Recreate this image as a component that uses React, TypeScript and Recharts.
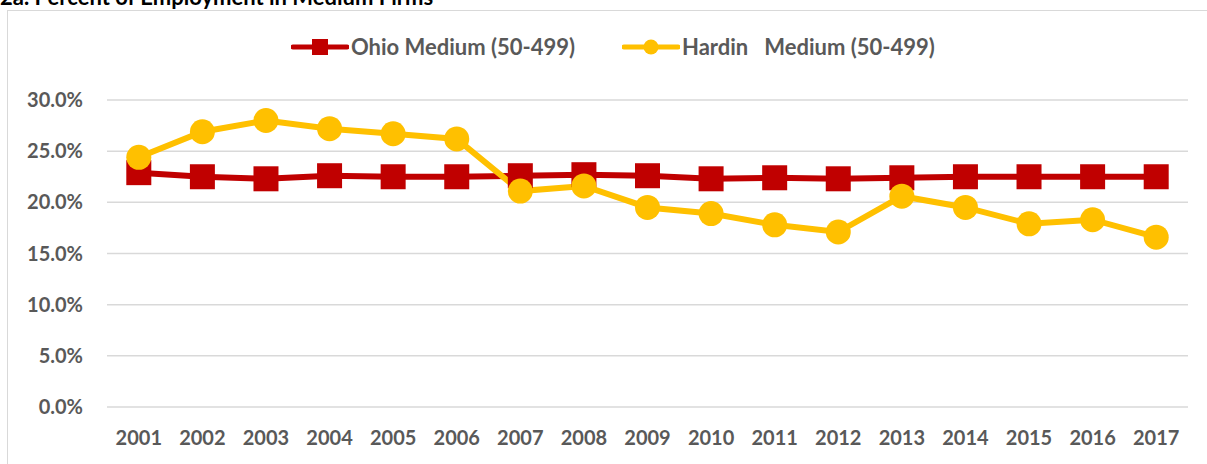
// Medium-firm employment share, Ohio vs Hardin county, 2001-2017.
// Excel-style line chart: square markers for Ohio, round for Hardin.

import { LineChart, Line, XAxis, YAxis, CartesianGrid } from "recharts";

const YEARS = [
  "2001", "2002", "2003", "2004", "2005", "2006", "2007", "2008", "2009",
  "2010", "2011", "2012", "2013", "2014", "2015", "2016", "2017",
];

// percent of employment in medium firms (50-499)
const OHIO = [
  22.9, 22.5, 22.3, 22.6, 22.5, 22.5, 22.6, 22.7, 22.6,
  22.3, 22.4, 22.3, 22.4, 22.5, 22.5, 22.5, 22.5,
];
const HARDIN = [
  24.4, 26.9, 28.0, 27.2, 26.7, 26.2, 21.1, 21.6, 19.5,
  18.9, 17.8, 17.1, 20.6, 19.5, 17.9, 18.3, 16.6,
];

const Y_TICKS = [0, 5, 10, 15, 20, 25, 30];

const SERIES_OHIO = "Ohio Medium (50-499)";
const SERIES_HARDIN = "Hardin   Medium (50-499)";

const RED = "#C00000";
const GOLD = "#FFC000";
const GRID = "#D9D9D9";
const TEXT = "#595959";
const FONT = "Lato, 'Open Sans', sans-serif";

const W = 1207;
const H = 464;

const data = YEARS.map((year, i) => ({ year, ohio: OHIO[i], hardin: HARDIN[i] }));

function SquareDot(props: any) {
  const { cx, cy, index } = props;
  if (cx == null || cy == null) return <g key={`sq-${index}`} />;
  return <rect key={`sq-${index}`} x={cx - 12.5} y={cy - 12.5} width={25} height={25} fill={RED} />;
}

function RoundDot(props: any) {
  const { cx, cy, index } = props;
  if (cx == null || cy == null) return <g key={`ci-${index}`} />;
  return <circle key={`ci-${index}`} cx={cx} cy={cy} r={12.5} fill={GOLD} />;
}

function LegendItem({ label, color, marker, left }: { label: string; color: string; marker: "square" | "circle"; left: number }) {
  return (
    <div style={{ position: "absolute", left, top: 33, display: "flex", alignItems: "center", whiteSpace: "pre" }}>
      <svg width={58} height={26} style={{ display: "block" }}>
        <line x1={2} y1={13} x2={56} y2={13} stroke={color} strokeWidth={5} strokeLinecap="round" />
        {marker === "square" ? (
          <rect x={21} y={5} width={16} height={16} fill={color} />
        ) : (
          <circle cx={29} cy={13} r={7.5} fill={color} />
        )}
      </svg>
      <span style={{ fontFamily: FONT, fontWeight: 700, fontSize: 22, color: TEXT, marginLeft: 2 }}>{label}</span>
    </div>
  );
}

export default function App() {
  const tick = { fontFamily: FONT, fontWeight: 700, fontSize: 20, fill: TEXT };
  return (
    <div style={{ position: "absolute", left: 0, top: 0, width: W, height: H, overflow: "hidden", background: "#fff" }}>
      {/* title, cut off by the top of the frame */}
      <div
        style={{
          position: "absolute", left: 0, top: -17, fontFamily: FONT, fontWeight: 700,
          fontSize: 22, color: "#000", whiteSpace: "nowrap",
        }}
      >
        2a. Percent of Employment in Medium Firms
      </div>

      {/* chart frame */}
      <div style={{ position: "absolute", left: 7, top: 10, width: W, height: H, border: `1px solid ${GRID}` }} />

      <div style={{ position: "absolute", left: 0, top: 0 }}>
        <LineChart width={W} height={H} data={data} margin={{ top: 100, right: 19, bottom: 0, left: 0 }}>
          <CartesianGrid vertical={false} stroke={GRID} strokeWidth={1.5} />
          <XAxis
            dataKey="year"
            axisLine={false}
            tickLine={false}
            tickSize={0}
            tickMargin={24}
            interval={0}
            padding={{ left: 31.8, right: 31.8 }}
            tick={tick}
            height={57}
          />
          <YAxis
            domain={[0, 30]}
            ticks={Y_TICKS}
            tickFormatter={(v: number) => `${v.toFixed(1)}%`}
            axisLine={false}
            tickLine={false}
            tickSize={0}
            tickMargin={24}
            width={107}
            tick={tick}
          />
          <Line
            dataKey="ohio"
            name={SERIES_OHIO}
            stroke={RED}
            strokeWidth={6}
            dot={SquareDot}
            activeDot={false}
            isAnimationActive={false}
          />
          <Line
            dataKey="hardin"
            name={SERIES_HARDIN}
            stroke={GOLD}
            strokeWidth={6}
            dot={RoundDot}
            activeDot={false}
            isAnimationActive={false}
          />
        </LineChart>
      </div>

      <LegendItem label={SERIES_OHIO} color={RED} marker="square" left={291} />
      <LegendItem label={SERIES_HARDIN} color={GOLD} marker="circle" left={622} />
    </div>
  );
}
